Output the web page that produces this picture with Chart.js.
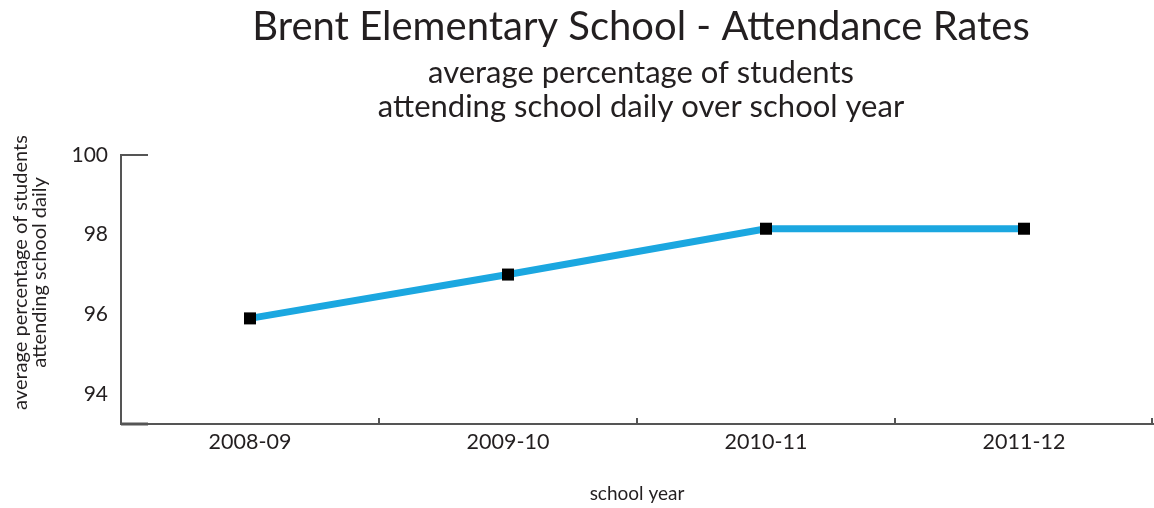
<!DOCTYPE html>
<html>
<head>
<meta charset="utf-8">
<script src="https://cdn.jsdelivr.net/npm/chart.js@4/dist/chart.umd.min.js"></script>
<style>
  html, body { margin: 0; padding: 0; background: #ffffff; }
  #wrap { width: 1154px; height: 508px; }
</style>
</head>
<body>
<div id="wrap"><canvas id="chart" width="1154" height="508"></canvas></div>
<script>
// Attendance data by school year
const schoolYears = ['2008-09', '2009-10', '2010-11', '2011-12'];
const attendanceRates = [95.9, 97.0, 98.15, 98.15];
const rateTicks = [94, 96, 98, 100];

const titleText = 'Brent Elementary School - Attendance Rates';
const subtitleLines = ['average percentage of students', 'attending school daily over school year'];
const yCaptionLines = ['average percentage of students', 'attending school daily'];
const xCaption = 'school year';

const FONT = 'Lato, "Open Sans", sans-serif';
const INK = '#231f20';
const AXIS = '#555555';

// Headings centred over the plot, plus the rotated y-axis caption
const headings = {
  id: 'headings',
  afterDraw(chart) {
    const { ctx, chartArea } = chart;
    const cx = (chartArea.left + chartArea.right) / 2 + 4;
    ctx.save();
    ctx.fillStyle = INK;
    ctx.textAlign = 'center';
    ctx.textBaseline = 'alphabetic';
    ctx.font = '40px ' + FONT;
    ctx.fillText(titleText, cx, 40);
    ctx.font = '31px ' + FONT;
    subtitleLines.forEach((line, i) => ctx.fillText(line, cx, 83 + i * 34));

    ctx.font = '20px ' + FONT;
    ctx.textBaseline = 'middle';
    const cy = (chartArea.top + chartArea.bottom) / 2 - 17;
    yCaptionLines.forEach((line, i) => {
      ctx.save();
      ctx.translate(21 + i * 19, cy);
      ctx.rotate(-Math.PI / 2);
      ctx.fillText(line, 0, 0);
      ctx.restore();
    });
    ctx.restore();
  }
};

// Axis decorations: short stubs at the top tick / base and upward category ticks
const axisMarks = {
  id: 'axisMarks',
  afterDatasetsDraw(chart) {
    const { ctx, chartArea, scales } = chart;
    const x = scales.x, y = scales.y;
    ctx.save();
    ctx.strokeStyle = AXIS;
    ctx.lineCap = 'butt';

    ctx.lineWidth = 2;
    const topY = Math.round(y.getPixelForValue(rateTicks[rateTicks.length - 1]));
    ctx.beginPath();
    ctx.moveTo(chartArea.left, topY);
    ctx.lineTo(chartArea.left + 27, topY);
    ctx.stroke();
    ctx.lineWidth = 3;
    ctx.beginPath();
    ctx.moveTo(chartArea.left, chartArea.bottom);
    ctx.lineTo(chartArea.left + 27, chartArea.bottom);
    ctx.stroke();

    ctx.lineWidth = 2;
    const bounds = [];
    for (let i = 0; i < schoolYears.length - 1; i++) {
      bounds.push((x.getPixelForValue(i) + x.getPixelForValue(i + 1)) / 2);
    }
    bounds.push(chartArea.right - 1);
    bounds.forEach(bx => {
      ctx.beginPath();
      ctx.moveTo(Math.round(bx), chartArea.bottom);
      ctx.lineTo(Math.round(bx), chartArea.bottom - 6);
      ctx.stroke();
    });
    ctx.restore();
  }
};

new Chart(document.getElementById('chart'), {
  type: 'line',
  data: {
    labels: schoolYears,
    datasets: [{
      data: attendanceRates,
      borderColor: '#1ba7e0',
      borderWidth: 7,
      tension: 0,
      fill: false,
      pointStyle: 'rect',
      pointRadius: 8.5,
      pointHoverRadius: 8.5,
      pointBackgroundColor: '#000000',
      pointBorderWidth: 0,
      clip: false
    }]
  },
  options: {
    responsive: false,
    animation: false,
    events: [],
    layout: { autoPadding: false, padding: { left: 0, right: 1, top: 155, bottom: 0 } },
    plugins: {
      legend: { display: false },
      tooltip: { enabled: false },
      title: { display: false },
      subtitle: { display: false }
    },
    scales: {
      x: {
        type: 'category',
        offset: true,
        grid: { display: false, drawTicks: false },
        border: { display: true, color: AXIS, width: 2 },
        ticks: { color: INK, font: { family: FONT, size: 21.5 }, padding: 5 },
        title: {
          display: true,
          text: xCaption,
          color: INK,
          font: { family: FONT, size: 19 },
          padding: { top: 0, bottom: 3 }
        },
        afterFit(scale) {
          scale.height = 84;
          scale.paddingLeft = 0;
          scale.paddingRight = 0;
        }
      },
      y: {
        min: 93.25,
        max: 100,
        grid: { display: false, drawTicks: false },
        border: { display: true, color: AXIS, width: 2 },
        ticks: { color: INK, font: { family: FONT, size: 21 }, padding: 13 },
        afterBuildTicks(scale) { scale.ticks = rateTicks.map(v => ({ value: v })); },
        afterFit(scale) {
          scale.width = 121;
          scale.paddingTop = 0;
          scale.paddingBottom = 0;
        }
      }
    }
  },
  plugins: [axisMarks, headings]
});
</script>
</body>
</html>
